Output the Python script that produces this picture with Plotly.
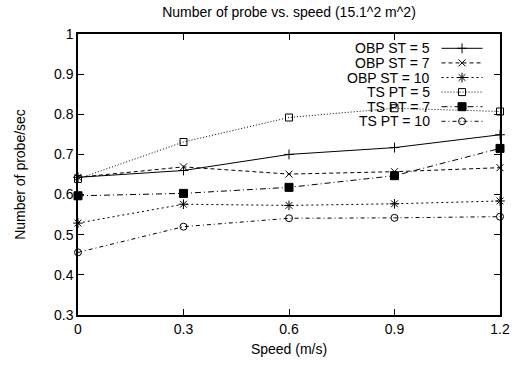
import plotly.graph_objects as go

speed = [0, 0.3, 0.6, 0.9, 1.2]
series_names = ["OBP ST = 5", "OBP ST = 7", "OBP ST = 10", "TS PT = 5", "TS PT = 7", "TS PT = 10"]
obp_st_5 = [0.643, 0.660, 0.700, 0.717, 0.749]
obp_st_7 = [0.643, 0.669, 0.651, 0.657, 0.667]
obp_st_10 = [0.529, 0.576, 0.573, 0.577, 0.584]
ts_pt_5 = [0.639, 0.731, 0.792, 0.815, 0.807]
ts_pt_7 = [0.597, 0.603, 0.618, 0.647, 0.715]
ts_pt_10 = [0.456, 0.520, 0.541, 0.542, 0.545]
y_ticks = [0.3, 0.4, 0.5, 0.6, 0.7, 0.8, 0.9, 1]
y_tick_labels = ["0.3", "0.4", "0.5", "0.6", "0.7", "0.8", "0.9", "1"]
x_ticks = [0, 0.3, 0.6, 0.9, 1.2]
x_tick_labels = ["0", "0.3", "0.6", "0.9", "1.2"]

values = [obp_st_5, obp_st_7, obp_st_10, ts_pt_5, ts_pt_7, ts_pt_10]
dashes = ["solid", "4px,3px", "2px,3px", "1px,2px", "6px,3px,1px,3px", "4px,3px,1px,3px"]
symbols = ["cross-thin-open", "x-thin-open", "asterisk-open", "square-open", "square", "circle-open"]
sizes = [7, 7, 8, 7, 8, 7]

FONT = "Liberation Sans, Arial, sans-serif"
FS = 14
L, R, T, B = 78, 506, 34, 315
fig = go.Figure()
for name, ys, d, s, sz in zip(series_names, values, dashes, symbols, sizes):
    fig.add_trace(go.Scatter(
        x=speed, y=ys, name=name, mode="lines+markers",
        line=dict(color="black", width=1, dash=d),
        marker=dict(symbol=s, size=sz, color="black", line=dict(color="black", width=1)),
        showlegend=False, cliponaxis=False,
    ))

# gnuplot-style legend: right-aligned text, sample line to the right
row_h = 14.6
top_y = 48.3
x_line0 = (446.7 - L) / (R - L)
x_line1 = (488.3 - L) / (R - L)
x_text = (437 - L) / (R - L)
for i, (name, d, s, sz) in enumerate(zip(series_names, dashes, symbols, sizes)):
    py = top_y + i * row_h
    yf = (B - py) / (B - T)
    fig.add_trace(go.Scatter(
        x=[x_line0, x_line1], y=[yf, yf], mode="lines", xaxis="x2", yaxis="y2",
        line=dict(color="black", width=1, dash=d), showlegend=False, hoverinfo="skip",
    ))
    fig.add_trace(go.Scatter(
        x=[(x_line0 + x_line1) / 2], y=[yf], mode="markers", xaxis="x2", yaxis="y2",
        marker=dict(symbol=s, size=sz, color="black", line=dict(color="black", width=1)),
        showlegend=False, hoverinfo="skip",
    ))
    fig.add_annotation(
        xref="paper", yref="paper", x=x_text, y=yf,
        text=name, showarrow=False, xanchor="right", yanchor="middle",
        font=dict(family=FONT, size=FS, color="black"),
    )

fig.update_layout(
    width=522, height=367,
    margin=dict(l=L, r=522 - R, t=T, b=367 - B),
    paper_bgcolor="white", plot_bgcolor="white",
    font=dict(family=FONT, size=FS, color="black"),
    title=dict(text="Number of probe vs. speed (15.1^2 m^2)", x=0.5, xref="paper",
               y=1 - 12 / 367, yanchor="middle", font=dict(size=FS)),
    xaxis=dict(range=[0, 1.2], tickvals=x_ticks, ticktext=x_tick_labels,
               ticks="inside", ticklen=6, tickcolor="black", mirror="ticks",
               showline=True, linecolor="black", linewidth=1.5, showgrid=False, zeroline=False,
               title=dict(text="Speed (m/s)", standoff=9, font=dict(size=FS))),
    yaxis=dict(range=[0.3, 1], tickvals=y_ticks, ticktext=y_tick_labels,
               ticks="inside", ticklen=6, tickcolor="black", mirror="ticks",
               showline=True, linecolor="black", linewidth=1.5, showgrid=False, zeroline=False,
               title=dict(text="Number of probe/sec", standoff=25, font=dict(size=FS))),
    xaxis2=dict(range=[0, 1], visible=False, overlaying="x", anchor="y2"),
    yaxis2=dict(range=[0, 1], visible=False, overlaying="y", anchor="x2"),
)
fig.write_html("out.html")
